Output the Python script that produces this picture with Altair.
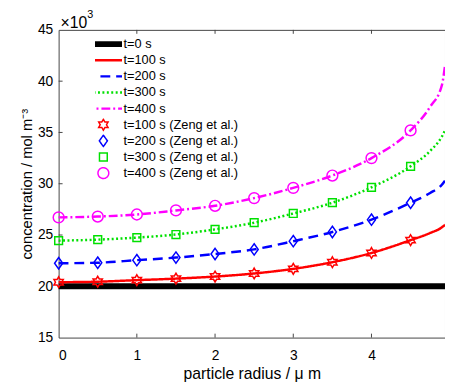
import altair as alt
import pandas as pd

# ---- data ----
r_curve = [0.0, 0.5, 1.0, 1.5, 2.0, 2.5, 3.0, 3.5, 4.0, 4.5, 4.75, 4.9, 4.94]
c0_curve = [20.0, 20.0, 20.0, 20.0, 20.0, 20.0, 20.0, 20.0, 20.0, 20.0, 20.0, 20.0, 20.0]
c100_curve = [20.4, 20.45, 20.6, 20.75, 20.95, 21.25, 21.7, 22.35, 23.25, 24.5, 25.2, 25.75, 26.0]
c200_curve = [22.25, 22.3, 22.55, 22.8, 23.15, 23.6, 24.4, 25.3, 26.5, 28.15, 29.1, 29.9, 30.3]
c300_curve = [24.45, 24.55, 24.75, 25.05, 25.55, 26.2, 27.1, 28.15, 29.65, 31.7, 33.2, 34.6, 35.2]
c400_curve = [26.72, 26.8, 27.0, 27.4, 27.85, 28.6, 29.6, 30.8, 32.5, 35.2, 37.5, 39.6, 41.5]

r_marker = [0.0, 0.5, 1.0, 1.5, 2.0, 2.5, 3.0, 3.5, 4.0, 4.5]
c100_marker = [20.4, 20.45, 20.6, 20.75, 20.95, 21.25, 21.7, 22.35, 23.25, 24.5]
c200_marker = [22.25, 22.3, 22.55, 22.8, 23.15, 23.6, 24.4, 25.3, 26.5, 28.15]
c300_marker = [24.45, 24.55, 24.75, 25.05, 25.55, 26.2, 27.1, 28.15, 29.65, 31.7]
c400_marker = [26.72, 26.8, 27.0, 27.4, 27.85, 28.6, 29.6, 30.8, 32.5, 35.2]

line_names = ["t=0 s", "t=100 s", "t=200 s", "t=300 s", "t=400 s"]
marker_names = ["t=100 s (Zeng et al.)", "t=200 s (Zeng et al.)",
                "t=300 s (Zeng et al.)", "t=400 s (Zeng et al.)"]

x_ticks = [0, 1, 2, 3, 4]
y_ticks = [15, 20, 25, 30, 35, 40, 45]
x_inner_ticks = [1, 2, 3, 4]
y_inner_ticks = [20, 25, 30, 35, 40]

# ---- tables ----
rows = []
for name, vals in zip(line_names, [c0_curve, c100_curve, c200_curve, c300_curve, c400_curve]):
    for r, c in zip(r_curve, vals):
        rows.append({"r": r, "c": c, "series": name})
df_lines = pd.DataFrame(rows)

rows = []
for name, vals in zip(marker_names, [c100_marker, c200_marker, c300_marker, c400_marker]):
    for r, c in zip(r_marker, vals):
        rows.append({"r": r, "c": c, "series": name})
df_markers = pd.DataFrame(rows)

df_xt = pd.DataFrame({"r": x_inner_ticks})
df_yt = pd.DataFrame({"c": y_inner_ticks})
df_exp = pd.DataFrame({"t": ["×10"]})
df_exp3 = pd.DataFrame({"t": ["3"]})

W, H = 393, 313
FONT = "Liberation Sans"
GREEN = "#00e000"

domain = line_names + marker_names
colors = ["black", "red", "blue", GREEN, "magenta", "red", "blue", GREEN, "magenta"]
LINE_PATH = "M-3.45,0L3.45,0"
HEX = ("M0,-1L0.289,-0.5L0.866,-0.5L0.577,0L0.866,0.5L0.289,0.5L0,1L-0.289,0.5"
       "L-0.866,0.5L-0.577,0L-0.866,-0.5L-0.289,-0.5Z")
DIAM = "M0,-1.05L0.75,0L0,1.05L-0.75,0Z"
SQR = "M-0.72,-0.72L0.72,-0.72L0.72,0.72L-0.72,0.72Z"
shapes = [LINE_PATH] * 5 + [HEX, DIAM, SQR, "circle"]
dashes = [[1, 0], [1, 0], [10, 6], [2, 2.5], [9, 3, 2, 3], [1, 0], [1, 0], [1, 0], [1, 0]]
widths = [6, 2.5, 2.5, 2.5, 2.5, 1.5, 1.5, 1.5, 1.5]

legend = alt.Legend(title=None)

color_enc = alt.Color("series:N", scale=alt.Scale(domain=domain, range=colors), legend=legend)
dash_enc = alt.StrokeDash("series:N", scale=alt.Scale(domain=domain, range=dashes), legend=legend)
width_enc = alt.StrokeWidth("series:N", scale=alt.Scale(type="ordinal", domain=domain, range=widths),
                            legend=legend)

x_enc = alt.X("r:Q", scale=alt.Scale(domain=[0, 4.94], nice=False, zero=False),
              axis=alt.Axis(values=x_ticks, format="d", title="particle radius / μ m", grid=False,
                            ticks=False, domain=False, labelPadding=11, titlePadding=4,
                            labelFontSize=14, titleFontSize=16))
y_enc = alt.Y("c:Q", scale=alt.Scale(domain=[15, 45], nice=False, zero=False),
              axis=alt.Axis(values=y_ticks, title="concentration / mol m⁻³", grid=False,
                            ticks=False, domain=False, labelPadding=6, titlePadding=3,
                            labelFontSize=14, titleFontSize=15))

lines = alt.Chart(df_lines).mark_line(interpolate="monotone").encode(
    x=x_enc, y=y_enc, color=color_enc, strokeDash=dash_enc, strokeWidth=width_enc,
    detail="series:N")

points = alt.Chart(df_markers).mark_point(filled=False, size=121, opacity=1).encode(
    x="r:Q", y="c:Q",
    color=color_enc,
    strokeWidth=width_enc,
    shape=alt.Shape("series:N", scale=alt.Scale(domain=domain, range=shapes), legend=legend),
)

tick_col = "#444"
xt_bottom = alt.Chart(df_xt).mark_rule(color=tick_col, strokeWidth=1).encode(
    x="r:Q", y=alt.value(H), y2=alt.value(H - 4))
xt_top = alt.Chart(df_xt).mark_rule(color=tick_col, strokeWidth=1).encode(
    x="r:Q", y=alt.value(0), y2=alt.value(4))
yt_left = alt.Chart(df_yt).mark_rule(color=tick_col, strokeWidth=1).encode(
    y="c:Q", x=alt.value(0), x2=alt.value(4))

exp_text = alt.Chart(df_exp).mark_text(align="left", baseline="middle", fontSize=16,
                                       font=FONT, color="black").encode(
    text="t:N", x=alt.value(2), y=alt.value(-7))
exp3_text = alt.Chart(df_exp3).mark_text(align="left", baseline="middle", fontSize=11,
                                         font=FONT, color="black").encode(
    text="t:N", x=alt.value(29), y=alt.value(-15))

chart = alt.layer(xt_bottom, xt_top, yt_left, lines, points,
                  exp_text, exp3_text).properties(
    width=W, height=H,
    autosize=alt.AutoSizeParams(type="none"),
    padding={"left": 51.5, "top": 19, "right": 0, "bottom": 47},
).configure_view(
    stroke="#444", strokeWidth=1
).configure_axis(
    labelFont=FONT, titleFont=FONT, labelColor="black", titleColor="black",
    titleFontWeight="normal",
).configure_legend(
    orient="none", legendX=37, legendY=8, padding=0,
    labelFont=FONT, labelFontSize=13, labelColor="black",
    symbolSize=121, labelOffset=12, rowPadding=2.4, clipHeight=13,
    symbolFillColor="transparent", symbolOpacity=1,
)

chart.save("out.html", embed_options={"renderer": "svg", "actions": False})
